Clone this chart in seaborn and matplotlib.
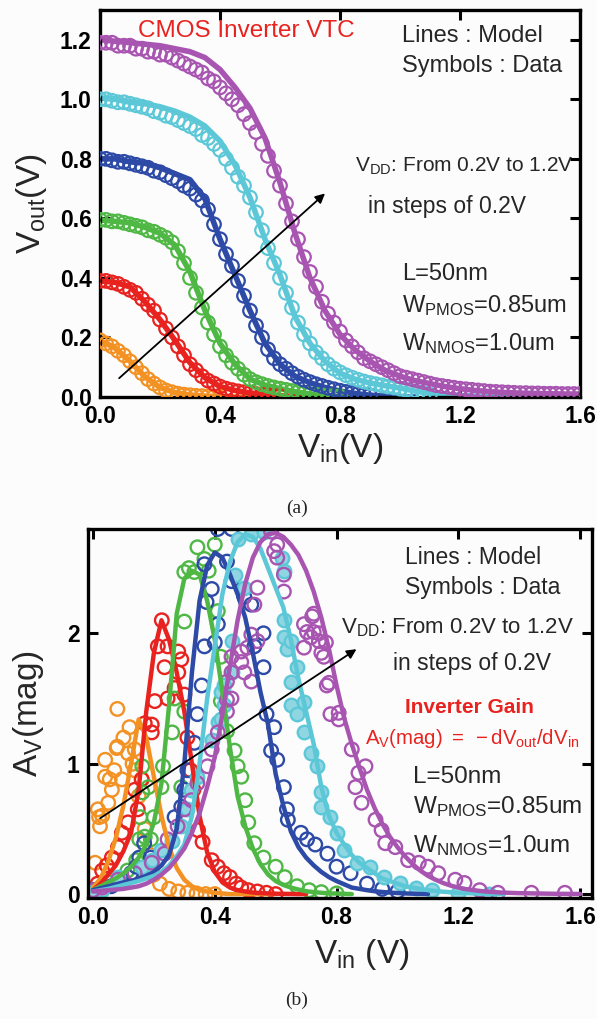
import numpy as np
import matplotlib
matplotlib.use("Agg")
import matplotlib.pyplot as plt
import seaborn as sns

# ---------------- data : panel (a) VTC ----------------
VDD = ["0.2", "0.4", "0.6", "0.8", "1.0", "1.2"]
COLORS = ["#f39223", "#e8231f", "#4fb845", "#2c4aa6", "#5cc8d7", "#a855b1"]

VIN_A_MODEL = np.round(np.arange(0, 1.6001, 0.05), 3)          # 33 points
VIN_A_DATA = np.round(np.arange(0, 1.6001, 0.02), 3)           # 81 points

VTC_MODEL_02 = [0.19, 0.165, 0.12, 0.068, 0.032, 0.015, 0.007, 0.003, 0.001, 0, 0, 0, 0]
VTC_MODEL_04 = [0.39, 0.385, 0.37, 0.32, 0.26, 0.19, 0.115, 0.065, 0.035, 0.022, 0.014,
                0.008, 0.004, 0.002, 0, 0]
VTC_MODEL_06 = [0.595, 0.59, 0.585, 0.57, 0.55, 0.51, 0.42, 0.29, 0.18, 0.11, 0.06, 0.04,
                0.028, 0.018, 0.01, 0.005, 0.002, 0, 0]
VTC_MODEL_08 = [0.80, 0.80, 0.79, 0.785, 0.77, 0.75, 0.73, 0.665, 0.53, 0.41, 0.29, 0.18,
                0.11, 0.07, 0.048, 0.032, 0.02, 0.012, 0.006, 0.003, 0, 0]
VTC_MODEL_10 = [1.005, 1.0, 0.99, 0.985, 0.975, 0.96, 0.94, 0.91, 0.86, 0.78, 0.67, 0.53,
                0.41, 0.27, 0.18, 0.12, 0.08, 0.06, 0.047, 0.038, 0.03, 0.02, 0.012, 0.008,
                0.005, 0.003, 0.002, 0.001, 0, 0]
VTC_MODEL_12 = [1.20, 1.195, 1.19, 1.185, 1.18, 1.17, 1.16, 1.14, 1.10, 1.04, 0.97, 0.87,
                0.72, 0.55, 0.40, 0.29, 0.21, 0.158, 0.12, 0.09, 0.07, 0.055, 0.045, 0.035,
                0.028, 0.022, 0.018, 0.015, 0.013, 0.012, 0.011, 0.01, 0.01]

VTC_DATA_02 = [0.19, 0.18, 0.17, 0.155, 0.14, 0.12, 0.10, 0.08, 0.06, 0.045, 0.032, 0.022,
               0.016, 0.011, 0.008, 0.006, 0.004, 0.003, 0.002, 0.001, 0.0]
VTC_DATA_04 = [0.39, 0.39, 0.385, 0.38, 0.37, 0.36, 0.35, 0.33, 0.31, 0.29, 0.26, 0.23, 0.20,
               0.17, 0.14, 0.11, 0.09, 0.07, 0.055, 0.045, 0.035, 0.028, 0.023, 0.019, 0.016,
               0.013, 0.01, 0.008, 0.006, 0.004, 0.003]
VTC_DATA_06 = [0.595, 0.595, 0.59, 0.59, 0.585, 0.58, 0.575, 0.57, 0.56, 0.555, 0.545, 0.535,
               0.52, 0.49, 0.45, 0.40, 0.35, 0.30, 0.25, 0.21, 0.17, 0.14, 0.115, 0.095, 0.075,
               0.06, 0.05, 0.043, 0.037, 0.032, 0.028, 0.024, 0.02, 0.016, 0.013, 0.01, 0.008,
               0.006, 0.004, 0.003, 0.002]
VTC_DATA_08 = [0.80, 0.80, 0.795, 0.79, 0.79, 0.785, 0.78, 0.775, 0.77, 0.76, 0.755, 0.745,
               0.735, 0.725, 0.71, 0.70, 0.68, 0.66, 0.63, 0.58, 0.53, 0.48, 0.44, 0.39, 0.34,
               0.29, 0.24, 0.20, 0.16, 0.13, 0.11, 0.095, 0.08, 0.068, 0.058, 0.05, 0.043,
               0.037, 0.031, 0.026, 0.021, 0.017, 0.013, 0.01, 0.007, 0.005]
VTC_DATA_10 = [1.0, 1.0, 0.995, 0.99, 0.99, 0.985, 0.98, 0.975, 0.97, 0.96, 0.955, 0.945,
               0.94, 0.93, 0.92, 0.91, 0.90, 0.88, 0.87, 0.85, 0.83, 0.80, 0.77, 0.74, 0.71,
               0.67, 0.62, 0.56, 0.50, 0.45, 0.40, 0.35, 0.30, 0.25, 0.21, 0.18, 0.15, 0.13,
               0.11, 0.095, 0.083, 0.073, 0.065, 0.058, 0.052, 0.047, 0.043, 0.039, 0.035,
               0.032, 0.028, 0.024, 0.02, 0.016, 0.012, 0.009]
VTC_DATA_12 = [1.19, 1.19, 1.19, 1.18, 1.18, 1.18, 1.17, 1.17, 1.16, 1.16, 1.15, 1.15, 1.14,
               1.13, 1.12, 1.11, 1.10, 1.09, 1.07, 1.06, 1.04, 1.02, 1.00, 0.98, 0.95, 0.92,
               0.89, 0.85, 0.81, 0.76, 0.71, 0.65, 0.59, 0.53, 0.47, 0.42, 0.37, 0.32, 0.28,
               0.25, 0.22, 0.19, 0.17, 0.15, 0.13, 0.12, 0.11, 0.10, 0.09, 0.08, 0.07, 0.065,
               0.06, 0.055, 0.05, 0.045, 0.04, 0.037, 0.034, 0.031, 0.028, 0.026, 0.024, 0.022,
               0.02, 0.018, 0.017, 0.016, 0.015, 0.014, 0.013, 0.013, 0.012, 0.012, 0.011,
               0.011, 0.011, 0.01, 0.01, 0.01, 0.01]

# ---------------- data : panel (b) gain ----------------
VIN_B_MODEL = np.round(np.arange(0, 1.6001, 0.025), 4)         # 65 points

GAIN_MODEL_02 = [0.05, 0.12, 0.25, 0.43, 0.68, 1.0, 1.34, 1.2, 0.9, 0.6, 0.36, 0.2, 0.11,
                 0.06, 0.03, 0.02, 0.01, 0.005, 0, 0, 0, 0, 0, 0, 0]
GAIN_MODEL_04 = [0.03, 0.08, 0.15, 0.22, 0.33, 0.47, 0.8, 1.4, 1.85, 2.1, 1.95, 1.7, 1.4,
                 1.0, 0.6, 0.32, 0.17, 0.09, 0.05, 0.03, 0.02, 0.012, 0.008, 0.005, 0.003,
                 0.002, 0.001, 0, 0]
GAIN_MODEL_06 = [0.03, 0.06, 0.09, 0.12, 0.16, 0.21, 0.28, 0.38, 0.55, 0.85, 1.45, 2.15, 2.42,
                 2.48, 2.45, 2.25, 1.95, 1.55, 1.12, 0.75, 0.52, 0.35, 0.23, 0.15, 0.1, 0.07,
                 0.05, 0.035, 0.022, 0.015, 0.01, 0.006, 0.004, 0.002, 0]
GAIN_MODEL_08 = [0.03, 0.045, 0.06, 0.075, 0.09, 0.1, 0.12, 0.14, 0.17, 0.22, 0.3, 0.5, 1.0,
                 1.7, 2.25, 2.52, 2.62, 2.58, 2.45, 2.3, 2.12, 1.85, 1.55, 1.3, 0.92, 0.68,
                 0.48, 0.36, 0.28, 0.22, 0.17, 0.13, 0.1, 0.075, 0.05, 0.04, 0.03, 0.022,
                 0.016, 0.012, 0.008, 0.005, 0.003, 0.001, 0]
GAIN_MODEL_10 = [0.02, 0.03, 0.04, 0.055, 0.07, 0.085, 0.1, 0.12, 0.14, 0.17, 0.22, 0.29,
                 0.38, 0.6, 1.0, 1.5, 1.9, 2.3, 2.55, 2.7, 2.76, 2.74, 2.65, 2.5, 2.35, 2.2,
                 1.95, 1.65, 1.4, 1.15, 0.82, 0.6, 0.47, 0.38, 0.3, 0.24, 0.2, 0.16, 0.12,
                 0.1, 0.08, 0.06, 0.05, 0.04, 0.03, 0.024, 0.018, 0.014, 0.01, 0.007, 0.005,
                 0.003, 0.002, 0.001, 0]
GAIN_MODEL_12 = [0.02, 0.025, 0.03, 0.035, 0.04, 0.05, 0.06, 0.08, 0.11, 0.15, 0.2, 0.27,
                 0.35, 0.47, 0.62, 0.82, 1.05, 1.38, 1.75, 2.1, 2.38, 2.58, 2.7, 2.76, 2.77,
                 2.74, 2.68, 2.6, 2.48, 2.32, 2.12, 1.88, 1.6, 1.35, 1.15, 0.97, 0.8, 0.66,
                 0.54, 0.44, 0.36, 0.29, 0.23, 0.18, 0.14, 0.11, 0.085, 0.065, 0.05, 0.038,
                 0.03, 0.023, 0.018, 0.014, 0.011, 0.009, 0.007, 0.006, 0.005, 0.004, 0.003,
                 0.002, 0.002, 0.001, 0.001]

GAIN_DATA_02_X = [0.007, 0.016, 0.02, 0.023, 0.03, 0.04, 0.04, 0.05, 0.055, 0.062, 0.07, 0.078,
                  0.08, 0.08, 0.095, 0.10, 0.115, 0.12, 0.13, 0.137, 0.137, 0.15, 0.16, 0.17,
                  0.19, 0.2, 0.22, 0.25, 0.28, 0.31, 0.34, 0.37, 0.4]
GAIN_DATA_02_Y = [0.24, 0.65, 0.59, 0.52, 0.6, 0.9, 1.03, 0.7, 0.88, 0.8, 0.95, 1.12, 1.42,
                  1.13, 0.88, 1.2, 1.08, 1.28, 1.0, 1.11, 0.95, 0.75, 0.88, 0.5, 0.3, 0.15,
                  0.08, 0.04, 0.02, 0.01, 0.005, 0.0, 0.0]
GAIN_DATA_04_X = [0.0, 0.015, 0.03, 0.045, 0.062, 0.082, 0.095, 0.115, 0.137, 0.147, 0.16,
                  0.17, 0.193, 0.193, 0.203, 0.213, 0.226, 0.235, 0.245, 0.245, 0.268, 0.28,
                  0.28, 0.29, 0.3, 0.31, 0.32, 0.33, 0.345, 0.36, 0.39, 0.41, 0.43, 0.45,
                  0.47, 0.487, 0.51, 0.54, 0.57, 0.6]
GAIN_DATA_04_Y = [0.03, 0.08, 0.18, 0.22, 0.28, 0.36, 0.47, 0.55, 0.8, 0.65, 0.88, 1.31, 1.24,
                  1.3, 1.48, 1.9, 2.1, 1.74, 1.5, 1.9, 1.58, 1.86, 1.7, 1.8, 1.53, 1.2, 0.95,
                  0.8, 0.49, 0.4, 0.26, 0.21, 0.16, 0.13, 0.08, 0.05, 0.03, 0.02, 0.01, 0.0]
GAIN_DATA_06_X = [0.0, 0.03, 0.06, 0.09, 0.113, 0.128, 0.142, 0.152, 0.155, 0.162, 0.162, 0.17,
                  0.182, 0.19, 0.2, 0.225, 0.23, 0.26, 0.268, 0.29, 0.3, 0.3, 0.3, 0.315,
                  0.333, 0.343, 0.366, 0.38, 0.4, 0.41, 0.42, 0.42, 0.44, 0.465, 0.475, 0.487,
                  0.5, 0.51, 0.53, 0.56, 0.6, 0.63, 0.67, 0.71, 0.75, 0.8]
GAIN_DATA_06_Y = [0.03, 0.06, 0.09, 0.11, 0.18, 0.16, 0.26, 0.42, 0.59, 0.78, 0.98, 0.44,
                  0.82, 0.42, 0.59, 0.82, 0.98, 1.24, 1.5, 0.82, 2.09, 1.4, 2.47, 2.5, 2.47,
                  2.66, 2.57, 2.48, 2.68, 2.17, 1.82, 1.48, 1.25, 1.1, 0.98, 0.9, 0.72, 0.55,
                  0.39, 0.28, 0.21, 0.13, 0.06, 0.03, 0.015, 0.005]
GAIN_DATA_08_X = [0.0, 0.03, 0.06, 0.1, 0.125, 0.142, 0.152, 0.168, 0.19, 0.268, 0.29, 0.3,
                  0.31, 0.333, 0.343, 0.357, 0.366, 0.366, 0.373, 0.39, 0.4, 0.41, 0.41, 0.44,
                  0.455, 0.455, 0.497, 0.497, 0.52, 0.53, 0.56, 0.56, 0.57, 0.585, 0.595,
                  0.605, 0.627, 0.637, 0.64, 0.683, 0.703, 0.73, 0.77, 0.8, 0.846, 0.9, 0.95,
                  1.0]
GAIN_DATA_08_Y = [0.03, 0.04, 0.06, 0.1, 0.16, 0.21, 0.28, 0.39, 0.28, 0.59, 0.67, 0.8, 0.95,
                  1.16, 1.38, 1.6, 1.9, 2.53, 2.24, 2.34, 1.93, 2.07, 2.8, 2.55, 2.4, 2.8,
                  2.28, 2.8, 2.22, 1.9, 2.0, 1.74, 1.38, 1.1, 1.28, 1.03, 0.82, 0.65, 0.57,
                  0.47, 0.42, 0.38, 0.31, 0.21, 0.16, 0.08, 0.04, 0.02]
GAIN_DATA_10_X = [0.0, 0.03, 0.082, 0.16, 0.193, 0.225, 0.26, 0.29, 0.31, 0.323, 0.343, 0.39,
                  0.41, 0.42, 0.42, 0.43, 0.43, 0.455, 0.455, 0.465, 0.475, 0.497, 0.52, 0.562,
                  0.62, 0.627, 0.627, 0.627, 0.637, 0.65, 0.65, 0.65, 0.67, 0.67, 0.693, 0.693,
                  0.716, 0.735, 0.75, 0.75, 0.78, 0.8, 0.824, 0.866, 0.91, 0.955, 1.01, 1.06,
                  1.115, 1.2, 1.3]
GAIN_DATA_10_Y = [0.02, 0.03, 0.13, 0.21, 0.26, 0.34, 0.41, 0.52, 0.65, 0.8, 0.9, 1.18, 1.32,
                  1.34, 1.55, 1.45, 1.6, 1.7, 1.94, 2.45, 2.72, 2.35, 2.76, 2.78, 2.58, 2.48,
                  2.1, 1.97, 1.88, 1.94, 1.63, 1.45, 1.74, 1.38, 1.47, 1.24, 1.08, 0.98, 0.78,
                  0.67, 0.59, 0.47, 0.34, 0.24, 0.21, 0.13, 0.085, 0.05, 0.03, 0.01, 0.0]
GAIN_DATA_12_X = [0.0, 0.03, 0.082, 0.137, 0.193, 0.235, 0.245, 0.278, 0.3, 0.323, 0.343,
                  0.376, 0.39, 0.41, 0.44, 0.44, 0.44, 0.455, 0.455, 0.455, 0.487, 0.487,
                  0.497, 0.507, 0.52, 0.52, 0.53, 0.54, 0.54, 0.585, 0.595, 0.605, 0.605,
                  0.627, 0.627, 0.693, 0.693, 0.703, 0.716, 0.72, 0.725, 0.725, 0.742, 0.742,
                  0.75, 0.758, 0.765, 0.768, 0.775, 0.78, 0.807, 0.807, 0.85, 0.862, 0.872,
                  0.882, 0.895, 0.928, 0.948, 0.96, 0.993, 1.035, 1.07, 1.1, 1.134, 1.19,
                  1.22, 1.27, 1.33, 1.44, 1.55]
GAIN_DATA_12_Y = [0.03, 0.05, 0.11, 0.16, 0.24, 0.31, 0.42, 0.52, 0.65, 0.72, 0.85, 0.98,
                  1.11, 1.24, 1.49, 1.63, 1.4, 1.82, 1.5, 1.7, 1.86, 1.78, 1.7, 1.89, 1.99,
                  1.63, 2.22, 1.94, 2.35, 2.78, 2.63, 2.68, 2.58, 2.45, 2.32, 2.07, 1.89, 2.01,
                  1.97, 2.13, 2.15, 2.01, 1.94, 2.0, 1.85, 1.82, 1.93, 1.6, 1.62, 1.38, 1.39,
                  1.34, 1.11, 0.82, 0.93, 0.7, 0.98, 0.57, 0.49, 0.39, 0.36, 0.26, 0.24, 0.21,
                  0.16, 0.11, 0.085, 0.03, 0.01, 0.01, 0.01]

X_TICKS = [0.0, 0.4, 0.8, 1.2, 1.6]
X_TICKLABELS = ["0.0", "0.4", "0.8", "1.2", "1.6"]
YA_TICKS = [0.0, 0.2, 0.4, 0.6, 0.8, 1.0, 1.2]
YA_TICKLABELS = ["0.0", "0.2", "0.4", "0.6", "0.8", "1.0", "1.2"]
YB_TICKS = [0, 1, 2]
YB_TICKLABELS = ["0", "1", "2"]

# ---------------- style ----------------
sns.set_theme(style="ticks")
plt.rcParams["font.family"] = ["Liberation Sans", "DejaVu Sans"]
plt.rcParams["mathtext.fontset"] = "custom"
plt.rcParams["mathtext.rm"] = "Liberation Sans"
plt.rcParams["mathtext.it"] = "Liberation Sans:italic"
plt.rcParams["mathtext.bf"] = "Liberation Sans:bold"

BG = "#fcfcfd"
fig = plt.figure(figsize=(5.97, 10.19), dpi=100)
fig.patch.set_facecolor(BG)
ax1 = fig.add_axes([100 / 597, 1 - 397 / 1019, 480 / 597, 387 / 1019])
ax2 = fig.add_axes([88 / 597, 1 - 898 / 1019, 504 / 597, 369 / 1019])

def style_axes(ax):
    ax.set_facecolor(BG)
    for sp in ax.spines.values():
        sp.set_linewidth(2.4)
        sp.set_color("black")
        sp.set_visible(True)
    ax.tick_params(direction="in", length=7, width=2.2, top=True, right=True,
                   labelsize=16.5, pad=6, colors="black")
    for lab in ax.get_xticklabels() + ax.get_yticklabels():
        lab.set_fontweight("bold")

# ---------------- panel (a) ----------------
vtc_model = [VTC_MODEL_02, VTC_MODEL_04, VTC_MODEL_06, VTC_MODEL_08, VTC_MODEL_10, VTC_MODEL_12]
vtc_data = [VTC_DATA_02, VTC_DATA_04, VTC_DATA_06, VTC_DATA_08, VTC_DATA_10, VTC_DATA_12]
for m, d, c in zip(vtc_model, vtc_data, COLORS):
    sns.lineplot(x=VIN_A_MODEL[:len(m)], y=m, color=c, lw=4.0, ax=ax1,
                 estimator=None, sort=False, legend=False)
    sns.scatterplot(x=VIN_A_DATA[:len(d)], y=d, ax=ax1, marker="o", s=95,
                    facecolor="none", edgecolor=c, linewidth=1.6, legend=False, zorder=3)

ax1.set_xlim(0, 1.6)
ax1.set_ylim(0, 1.30)
ax1.set_xticks(X_TICKS, X_TICKLABELS)
ax1.set_yticks(YA_TICKS, YA_TICKLABELS)
style_axes(ax1)
ax1.set_xlabel(r"$\mathregular{V_{in}(V)}$", fontsize=24, labelpad=2)
ax1.set_ylabel(r"$\mathregular{V_{out}(V)}$", fontsize=24, labelpad=8)

ax1.text(0.127, 1.21, "CMOS Inverter VTC", color="#e8231f", fontsize=17.5)
ax1.text(1.007, 1.193, "Lines : Model", fontsize=17)
ax1.text(1.007, 1.092, "Symbols : Data", fontsize=17)
ax1.text(0.85, 0.756, r"$\mathregular{V_{DD}}$: From 0.2V to 1.2V", fontsize=15)
ax1.text(0.893, 0.618, "in steps of 0.2V", fontsize=16.5)
ax1.text(1.007, 0.393, "L=50nm", fontsize=17)
ax1.text(1.007, 0.286, r"$\mathregular{W_{PMOS}}$=0.85um", fontsize=17)
ax1.text(1.007, 0.158, r"$\mathregular{W_{NMOS}}$=1.0um", fontsize=17)
ax1.annotate("", xy=(0.757, 0.69), xytext=(0.057, 0.057),
             arrowprops=dict(arrowstyle="-|>", color="black", lw=1.3, mutation_scale=14),
             zorder=6)

# ---------------- panel (b) ----------------
gain_model = [GAIN_MODEL_02, GAIN_MODEL_04, GAIN_MODEL_06, GAIN_MODEL_08, GAIN_MODEL_10,
              GAIN_MODEL_12]
gain_dx = [GAIN_DATA_02_X, GAIN_DATA_04_X, GAIN_DATA_06_X, GAIN_DATA_08_X, GAIN_DATA_10_X,
           GAIN_DATA_12_X]
gain_dy = [GAIN_DATA_02_Y, GAIN_DATA_04_Y, GAIN_DATA_06_Y, GAIN_DATA_08_Y, GAIN_DATA_10_Y,
           GAIN_DATA_12_Y]
for i, (m, dx, dy, c) in enumerate(zip(gain_model, gain_dx, gain_dy, COLORS)):
    fc = "#8fd6e2" if VDD[i] == "1.0" else "none"
    sns.scatterplot(x=dx, y=dy, ax=ax2, marker="o", s=95, facecolor=fc, edgecolor=c,
                    linewidth=1.7, legend=False, zorder=2 + i * 0.1)
for m, c in zip(gain_model, COLORS):
    sns.lineplot(x=VIN_B_MODEL[:len(m)], y=m, color=c, lw=3.2, ax=ax2,
                 estimator=None, sort=False, legend=False, zorder=4)

ax2.set_xlim(-0.0164, 1.639)
ax2.set_ylim(-0.03, 2.8)
ax2.set_xticks(X_TICKS, X_TICKLABELS)
ax2.set_yticks(YB_TICKS, YB_TICKLABELS)
style_axes(ax2)
ax2.set_xlabel(r"$\mathregular{V_{in}}$ (V)", fontsize=24, labelpad=2)
ax2.set_ylabel(r"$\mathregular{A_{V}(mag)}$", fontsize=24, labelpad=15)
ax2.xaxis.set_label_coords((362 - 88) / 504, -0.105)

ax2.text(1.025, 2.53, "Lines : Model", fontsize=16.5)
ax2.text(1.025, 2.30, "Symbols : Data", fontsize=16.5)
ax2.text(0.816, 2.00, r"$\mathregular{V_{DD}}$: From 0.2V to 1.2V", fontsize=16)
ax2.text(0.986, 1.72, "in steps of 0.2V", fontsize=16.5)
ax2.text(1.025, 1.39, "Inverter Gain", color="#e8231f", fontsize=15, fontweight="bold")
ax2.text(0.895, 1.15, r"$\mathregular{A_{V}(mag)\ =\ -dV_{out}/dV_{in}}$", color="#e8231f",
         fontsize=14.7)
ax2.text(1.05, 0.85, "L=50nm", fontsize=17.5)
ax2.text(1.05, 0.62, r"$\mathregular{W_{PMOS}}$=0.85um", fontsize=17.5)
ax2.text(1.05, 0.32, r"$\mathregular{W_{NMOS}}$=1.0um", fontsize=17.5)
ax2.annotate("", xy=(0.873, 1.89), xytext=(0.016, 0.57),
             arrowprops=dict(arrowstyle="-|>", color="black", lw=1.3, mutation_scale=14),
             zorder=6)

fig.text(297 / 597, 1 - 508 / 1019, "(a)", ha="center", va="center", fontsize=14,
         family=["Liberation Serif", "DejaVu Serif"])
fig.text(297 / 597, 1 - 1000 / 1019, "(b)", ha="center", va="center", fontsize=14,
         family=["Liberation Serif", "DejaVu Serif"])

fig.savefig("out.png", dpi=100, facecolor=BG)
